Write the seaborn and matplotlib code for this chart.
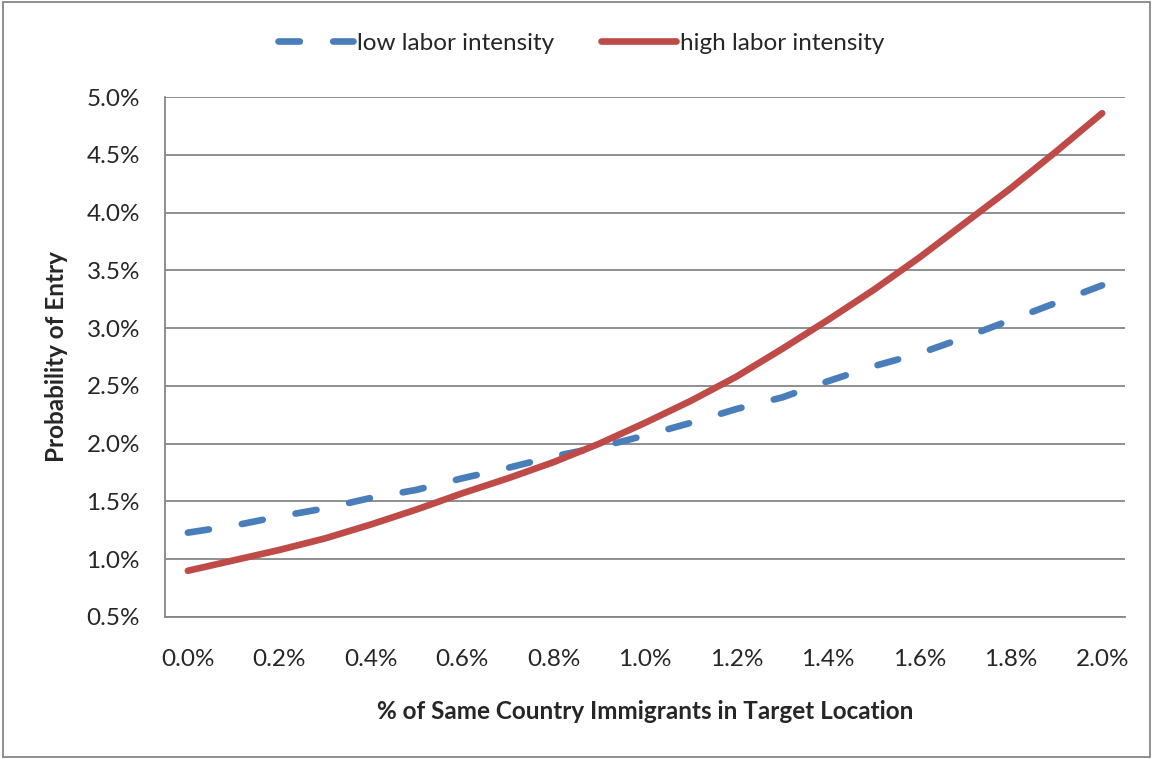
import numpy as np
import pandas as pd
import matplotlib
matplotlib.use("Agg")
import matplotlib.pyplot as plt
import seaborn as sns
from matplotlib.patches import Rectangle

# -------------------------------------------------------------------
# data
# -------------------------------------------------------------------
share_pct = [0.0, 0.1, 0.2, 0.3, 0.4, 0.5, 0.6, 0.7, 0.8, 0.9, 1.0,
             1.1, 1.2, 1.3, 1.4, 1.5, 1.6, 1.7, 1.8, 1.9, 2.0]
low_labor = [1.23, 1.29, 1.37, 1.44, 1.53, 1.60, 1.70, 1.79, 1.89, 1.97, 2.07,
             2.18, 2.30, 2.40, 2.54, 2.67, 2.78, 2.92, 3.07, 3.22, 3.37]
high_labor = [0.90, 0.99, 1.08, 1.18, 1.30, 1.43, 1.57, 1.70, 1.84, 2.00, 2.18,
              2.37, 2.58, 2.82, 3.07, 3.33, 3.61, 3.91, 4.21, 4.53, 4.86]
series_names = ["low labor intensity", "high labor intensity"]
x_ticks = [0.0, 0.2, 0.4, 0.6, 0.8, 1.0, 1.2, 1.4, 1.6, 1.8, 2.0]
y_ticks = [0.5, 1.0, 1.5, 2.0, 2.5, 3.0, 3.5, 4.0, 4.5, 5.0]

df = pd.concat([
    pd.DataFrame({"x": share_pct, "y": low_labor, "series": series_names[0]}),
    pd.DataFrame({"x": share_pct, "y": high_labor, "series": series_names[1]}),
])

# -------------------------------------------------------------------
# style
# -------------------------------------------------------------------
sns.set_style("white")
plt.rcParams["font.family"] = ["Lato", "DejaVu Sans"]
GRID = "#868686"
FS = 17.5
LW = 4.8
DASH = (3.2, 5.0)
colors = {series_names[0]: "#4A7EBB", series_names[1]: "#BE4B48"}

fig = plt.figure(figsize=(11.53, 7.59), dpi=100)
ax = fig.add_axes([0.1431, 0.1871, 0.9757 - 0.1431, 0.8722 - 0.1871])

sns.lineplot(data=df, x="x", y="y", hue="series", style="series",
             palette=colors, dashes={series_names[0]: DASH, series_names[1]: ""},
             linewidth=LW, ax=ax, legend=False)
for line in ax.get_lines():
    line.set_solid_capstyle("round")
    line.set_dash_capstyle("round")
    line.set_solid_joinstyle("round")

ax.set_xlim(-0.05, 2.05)
ax.set_ylim(0.5, 5.0)
ax.set_xticks(x_ticks)
ax.set_xticklabels([f"{v:.1f}%" for v in x_ticks])
ax.set_xticks(np.arange(-0.05, 2.06, 0.1), minor=True)
ax.set_yticks(y_ticks)
ax.set_yticklabels([f"{v:.1f}%" for v in y_ticks])

ax.yaxis.grid(True, color=GRID, linewidth=1.3)
ax.set_axisbelow(True)
for side in ["top", "right"]:
    ax.spines[side].set_visible(False)
for side in ["left", "bottom"]:
    ax.spines[side].set_color(GRID)
    ax.spines[side].set_linewidth(1.3)

ax.tick_params(axis="x", which="major", length=0, pad=23, labelsize=FS)
ax.tick_params(axis="x", which="minor", length=5, width=1.3, color=GRID, direction="out")
ax.tick_params(axis="y", which="major", length=5, width=1.3, color=GRID,
               direction="out", pad=13, labelsize=FS)

ax.set_xlabel("% of Same Country Immigrants in Target Location",
              fontsize=FS, fontweight="bold", labelpad=22)
ax.set_ylabel("Probability of Entry", fontsize=FS, fontweight="bold", labelpad=13)

# legend at the top
handles = [plt.Line2D([], [], color=colors[n], linewidth=LW,
                      linestyle=(0, DASH) if i == 0 else "-",
                      dash_capstyle="round", solid_capstyle="round")
           for i, n in enumerate(series_names)]
fig.legend(handles, series_names, loc="center", bbox_to_anchor=(0.504, 0.943),
           ncol=2, frameon=False, fontsize=FS, handlelength=3.1,
           handletextpad=0.17, columnspacing=1.9)

# outer chart border
fig.patches.append(Rectangle((0.003, 0.003), 0.994, 0.994, transform=fig.transFigure,
                             fill=False, edgecolor=GRID, linewidth=1.3))

fig.savefig("out.png", dpi=100)
